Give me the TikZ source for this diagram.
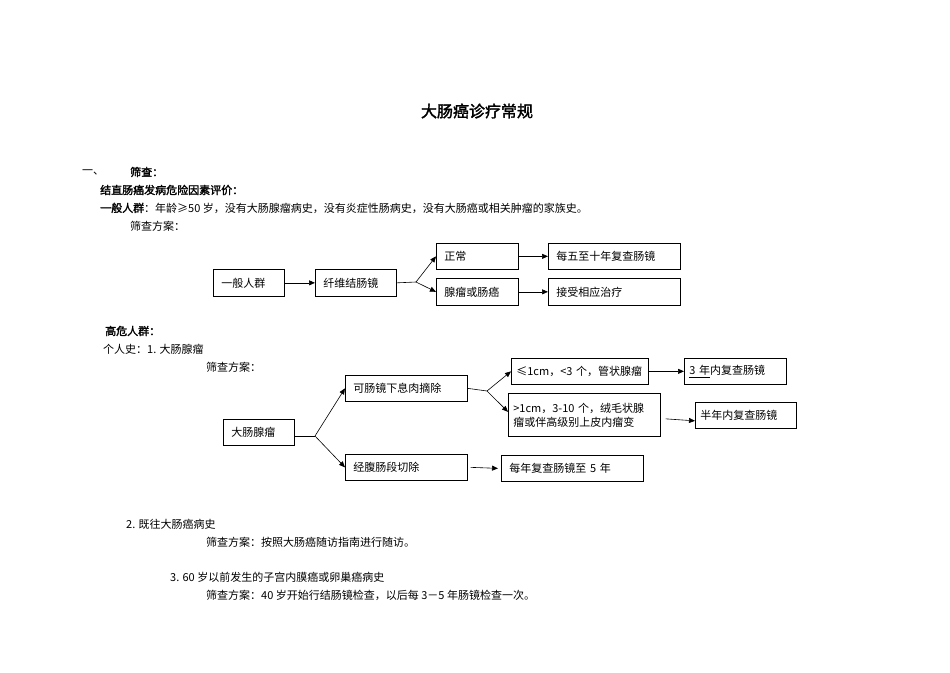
\documentclass[tikz,border=0pt]{standalone}
\usepackage{fontspec}
\setmainfont{Noto Sans CJK SC}[AutoFakeBold=2]
\usetikzlibrary{arrows.meta}
\begin{document}
\begin{tikzpicture}[x=1pt,y=-1pt,
  txt/.style={anchor=west,inner sep=0pt,font=\fontsize{11}{13}\selectfont},
  btxt/.style={txt,font=\fontsize{11}{13}\selectfont\bfseries},
  box/.style={draw,anchor=north west,inner xsep=8pt,inner ysep=0pt,align=left,font=\fontsize{11}{13}\selectfont,line width=0.7pt},
  arr/.style={-{Triangle[length=6pt,width=5pt]},line width=0.6pt}]
\useasboundingbox (0,0) rectangle (950,672);
\node[anchor=center,inner sep=0pt,font=\fontsize{16}{18}\selectfont\bfseries] (title) at (477,111) {大肠癌诊疗常规};
\node[txt] (t1) at (82,172) {一、};
\node[btxt] (t2) at (130,172) {筛查：};
\node[btxt] (t3) at (100,190) {结直肠癌发病危险因素评价：};
\node[txt] (t4) at (100,208) {\textbf{一般人群}：年龄≥50 岁，没有大肠腺瘤病史，没有炎症性肠病史，没有大肠癌或相关肿瘤的家族史。};
\node[txt] (t5) at (130,226) {筛查方案：};
\node[btxt] (t6) at (105,331) {高危人群：};
\node[txt] (t7) at (103,349) {个人史：1. 大肠腺瘤};
\node[txt] (t8) at (206,367) {筛查方案：};
\node[txt] (t9) at (126,524) {2. 既往大肠癌病史};
\node[txt] (t10) at (206,542) {筛查方案：按照大肠癌随访指南进行随访。};
\node[txt] (t11) at (170,577) {3. 60 岁以前发生的子宫内膜癌或卵巢癌病史};
\node[txt] (t12) at (206,595) {筛查方案：40 岁开始行结肠镜检查，以后每 3－5 年肠镜检查一次。};
% top diagram
\node[box,text width=55pt,minimum height=27pt] (a1) at (213,269) {一般人群};
\node[box,text width=65pt,minimum height=27pt] (a2) at (315,269) {纤维结肠镜};
\node[box,text width=66pt,minimum height=26pt] (a3) at (436,243) {正常};
\node[box,text width=66pt,minimum height=27pt] (a4) at (436,278) {腺瘤或肠癌};
\node[box,text width=116pt,minimum height=26pt] (a5) at (548,243) {每五至十年复查肠镜};
\node[box,text width=116pt,minimum height=27pt] (a6) at (548,278) {接受相应治疗};
\coordinate (s1) at (416,282);
\draw[arr] (a1) -- (a2);
\draw[line width=0.6pt] (a2.east) -- (s1);
\draw[arr] (s1) -- (a3.west);
\draw[arr] (s1) -- (a4.west);
\draw[arr] (a3) -- (a5);
\draw[arr] (a4) -- (a6);
% second diagram
\node[box,text width=55pt,minimum height=26pt] (b1) at (223,419) {大肠腺瘤};
\node[box,text width=106pt,minimum height=26pt] (b2) at (345,375) {可肠镜下息肉摘除};
\node[box,text width=106pt,minimum height=26pt] (b3) at (345,454) {经腹肠段切除};
\node[box,text width=127pt,minimum height=26pt,inner xsep=5pt] (b4) at (511,358) {≤1cm，<3 个，管状腺瘤};
\node[box,text width=142pt,minimum height=43pt,inner xsep=5pt,font=\fontsize{11}{14}\selectfont] (b5) at (508,393) {>1cm，3-10 个，绒毛状腺\\瘤或伴高级别上皮内瘤变};
\node[box,text width=92pt,minimum height=26pt,inner xsep=5pt] (b6) at (684,358) {\underline{3 年}内复查肠镜};
\node[box,text width=91pt,minimum height=26pt,inner xsep=5pt] (b7) at (695,402) {半年内复查肠镜};
\node[box,text width=126pt,minimum height=26pt] (b8) at (501,455) {每年复查肠镜至 5 年};
\coordinate (s2) at (315,436);
\coordinate (s3) at (487,391);
\draw[line width=0.6pt] (b1.east |- s2) -- (s2);
\draw[arr] (s2) -- (b2.west);
\draw[arr] (s2) -- (b3.west);
\draw[line width=0.6pt] (b2.east) -- (s3);
\draw[arr] (s3) -- (b4.west);
\draw[arr] (s3) -- ([yshift=3pt]b5.west);
\draw[arr] (b4) -- (b6);
\draw[arr] ([xshift=5pt,yshift=-4pt]b5.east) -- ([yshift=-6pt]b7.west |- b5.east);
\draw[arr] ([xshift=3pt]b3.east) -- ([xshift=-3pt]b8.west);
\end{tikzpicture}
\end{document}
